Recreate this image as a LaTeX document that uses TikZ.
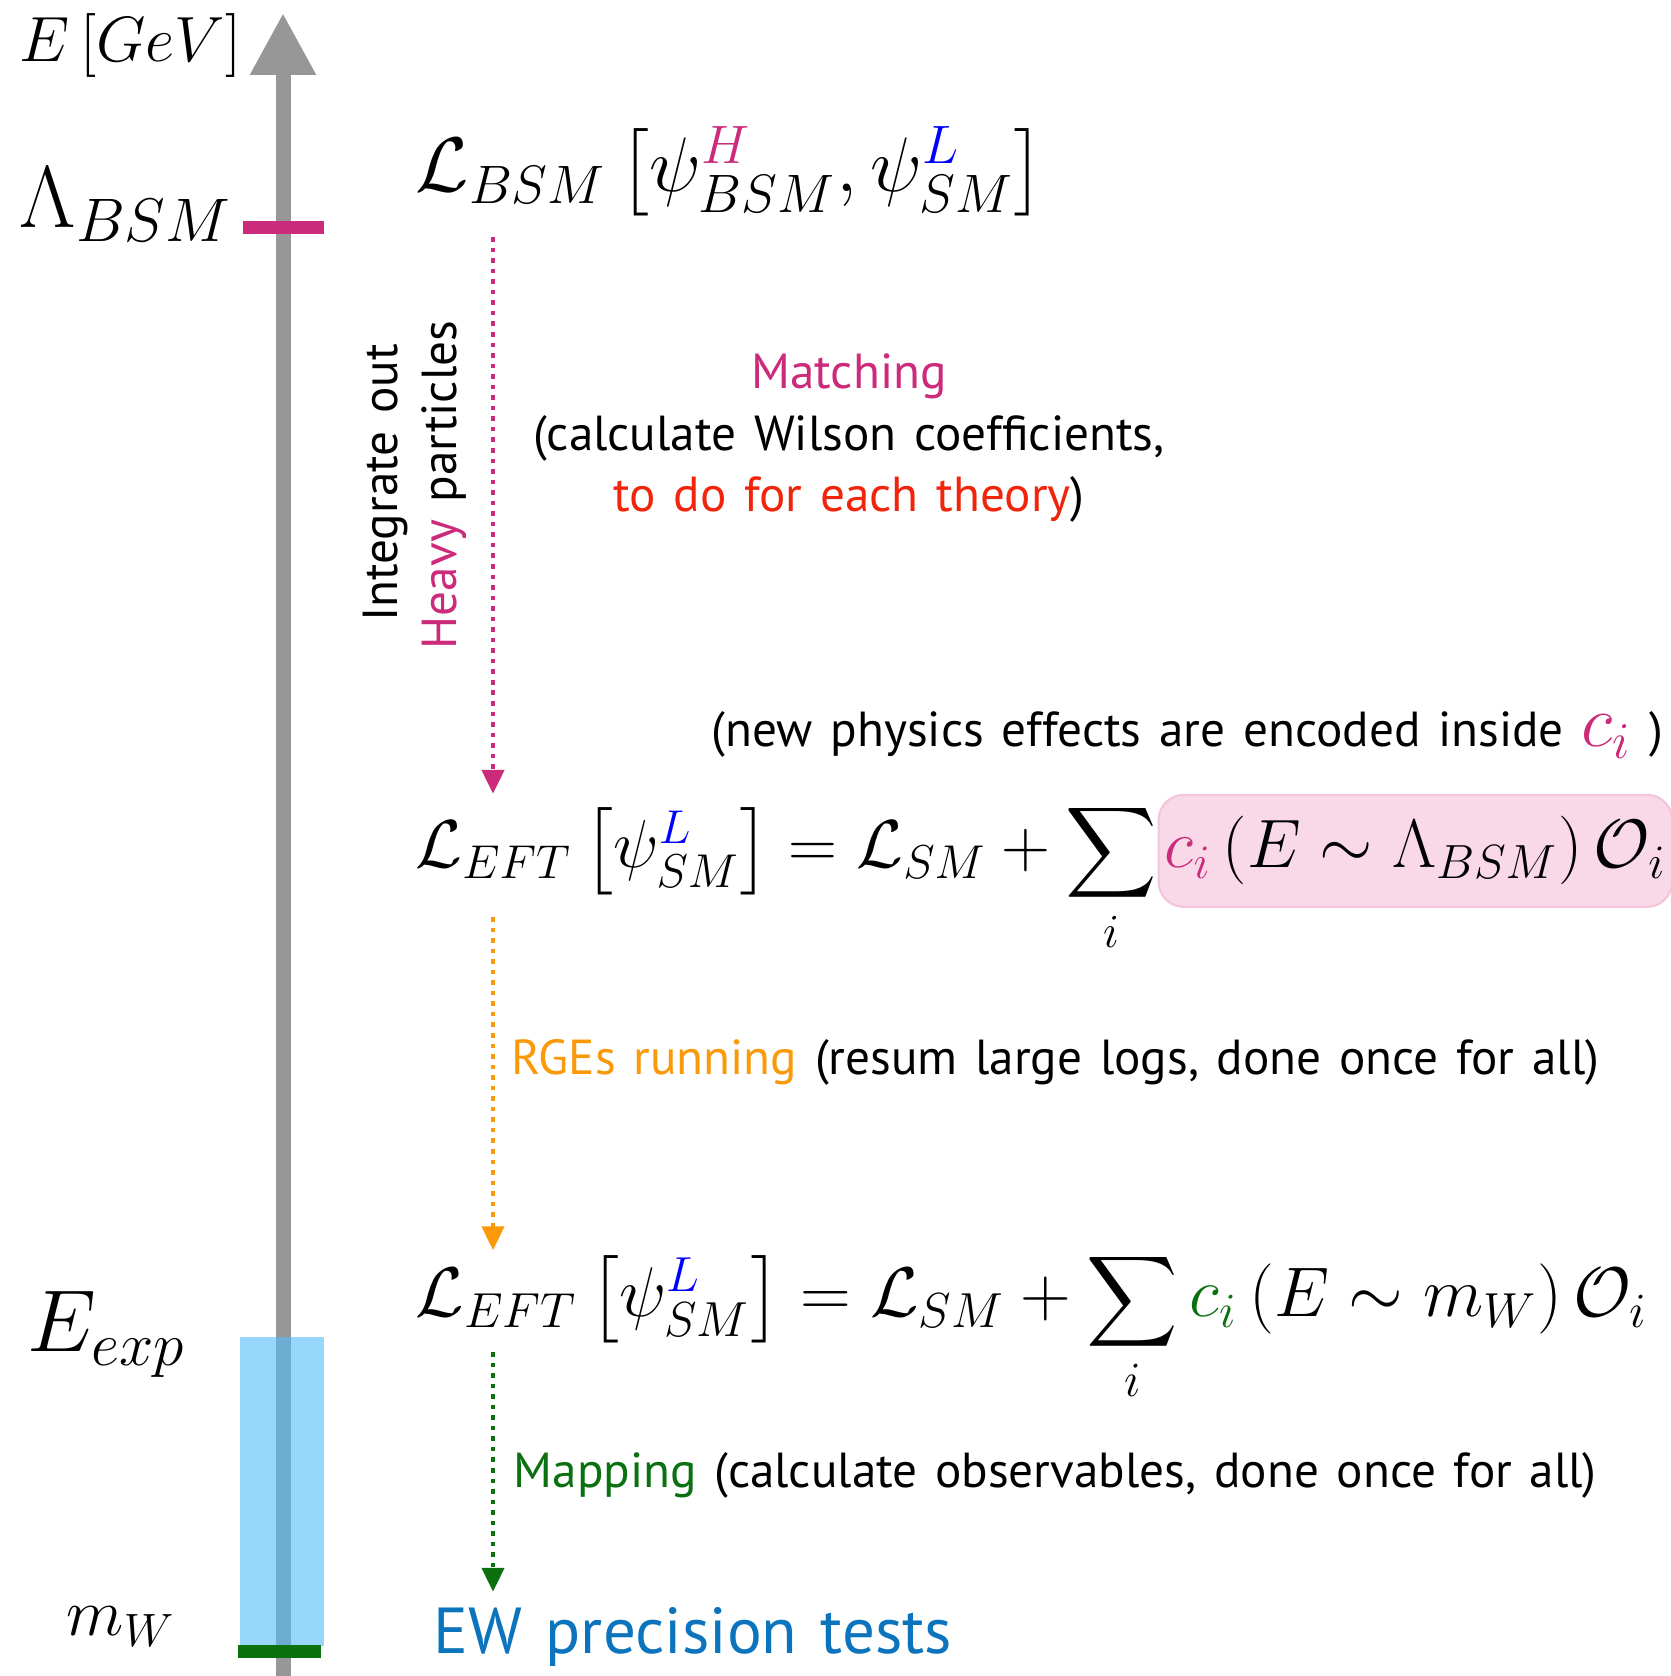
\RequirePackage{fix-cm}
\documentclass[tikz,border=0pt]{standalone}
\usepackage{exscale}
\usepackage{graphicx}
\usepackage[no-math]{fontspec}
\setmainfont{PT Sans}[WordSpace=1.35]
\usepackage{tikz}
\usetikzlibrary{arrows.meta,positioning,calc}
\definecolor{scalegray}{HTML}{979797}
\definecolor{heavy}{HTML}{CC2A7A}
\definecolor{theoryred}{HTML}{F0250C}
\definecolor{running}{HTML}{FA9A0A}
\definecolor{mapgreen}{HTML}{0A7010}
\definecolor{ewblue}{HTML}{0B74BC}
\definecolor{light}{HTML}{0000FF}
\definecolor{boxpink}{HTML}{F9D8E8}
\definecolor{boxedge}{HTML}{F3C4DB}
\definecolor{skyband}{HTML}{52BDFA}
\newcommand{\wsum}{\mathop{\scalebox{0.87}{$\displaystyle\sum$}}\limits}
\tikzset{
  scalelabel/.style={font=\fontsize{#1}{#1}\selectfont, inner sep=0pt, anchor=base west},
  scalelabel/.default=25,
  lagrangian/.style={font=\fontsize{#1}{#1}\selectfont, inner sep=0pt, anchor=base west},
  lagrangian/.default=20,
  note/.style={font=\fontsize{14}{17.4}\selectfont, inner sep=0pt, align=center},
  highlight/.style={rectangle, rounded corners=0.25cm, fill=boxpink, draw=boxedge,
    semithick, inner xsep=0.06cm, minimum height=1.12cm},
  flowarrow/.style={
    -{Triangle[length=0.24cm, width=0.22cm]}, line width=1.3pt,
    dash pattern=on 1.3pt off 1.7pt, color=#1
  },
  flowarrow/.default=heavy,
  tickmark/.style={line width=0.13cm, color=#1},
  energyaxis/.style={-{Triangle[length=0.62cm, width=0.62cm]}, line width=0.15cm, color=scalegray},
}

\begin{document}
\begin{tikzpicture}
  \useasboundingbox (0,0) rectangle (16.71,16.76);
  % energy scale
  \coordinate (axisbot) at (2.83,0);
  \coordinate (axistop) at (2.83,16.63);
  \draw[energyaxis] (axisbot) -- (axistop);
  \fill[skyband, opacity=0.6] (2.40,0.30) rectangle (3.24,3.39);
  \draw[tickmark=heavy] (2.43,14.48) -- (3.24,14.48);
  \draw[tickmark=mapgreen] (2.38,0.24) -- (3.21,0.24);
  \node[scalelabel=18.2] (gev) at (0.19,16.14) {$E\,[GeV]$};
  \node[scalelabel] (lbsm) at (0.19,14.48) {$\Lambda_{BSM}$};
  \node[scalelabel] (eexp) at (0.27,3.24) {$E_{exp}$};
  \node[scalelabel=19] (mw) at (0.66,0.40) {$m_W$};

  % lagrangians
  \node[lagrangian=22] (bsm) at (4.15,14.84)
    {$\mathcal{L}_{BSM}\left[\psi^{\textcolor{heavy}{H}}_{BSM},\psi^{\textcolor{light}{L}}_{SM}\right]$};
  \node[lagrangian=19.3] (eft1) at (4.15,8.08)
    {$\mathcal{L}_{EFT}\left[\psi^{\textcolor{light}{L}}_{SM}\right]=\mathcal{L}_{SM}+\wsum_i$};
  \node[lagrangian=19.5, highlight] (wilson) at (eft1.base east)
    {$\textcolor{heavy}{c_i}\left(E\sim\Lambda_{BSM}\right)\mathcal{O}_i$};
  \node[lagrangian] (eft2) at (4.15,3.59)
    {$\mathcal{L}_{EFT}\left[\psi^{\textcolor{light}{L}}_{SM}\right]=\mathcal{L}_{SM}+\wsum_i\textcolor{mapgreen}{c_i}\left(E\sim m_W\right)\mathcal{O}_i$};
  \node[note, font=\fontsize{18.5}{22}\selectfont, text=ewblue, anchor=west] (ew) at (4.33,0.39) {EW precision tests};

  % steps
  \coordinate (lane) at (4.93,0);
  \draw[flowarrow=heavy, shorten <=0.2cm, shorten >=0.08cm] (bsm.south -| lane) -- (eft1.north -| lane);
  \draw[flowarrow=running] ($(eft1.base -| lane)+(0,-0.49)$) -- (eft2.north -| lane);
  \draw[flowarrow=mapgreen, shorten >=0.15cm] ($(eft2.base -| lane)+(0,-0.35)$) -- (ew.north -| lane);

  \node[note, rotate=90] (integrate) at (3.85,11.93) {Integrate out};
  \node[note, rotate=90] (heavyp) at (4.44,11.91) {\textcolor{heavy}{Heavy} particles};
  \node[note] (matching) at (8.49,12.38)
    {\textcolor{heavy}{Matching}\\(calculate Wilson coefficients,\\\textcolor{theoryred}{to do for each theory})};
  \node[note, anchor=west] (encoded) at (7.11,9.41)
    {(new physics effects are encoded inside {\fontsize{21}{25}\selectfont$\textcolor{heavy}{c_i}$} )};
  \node[note, anchor=west] (rges) at (5.11,6.14)
    {\textcolor{running}{RGEs running} (resum large logs, done once for all)};
  \node[note, anchor=west] (mapping) at (5.13,2.01)
    {\textcolor{mapgreen}{Mapping} (calculate observables, done once for all)};
\end{tikzpicture}
\end{document}
